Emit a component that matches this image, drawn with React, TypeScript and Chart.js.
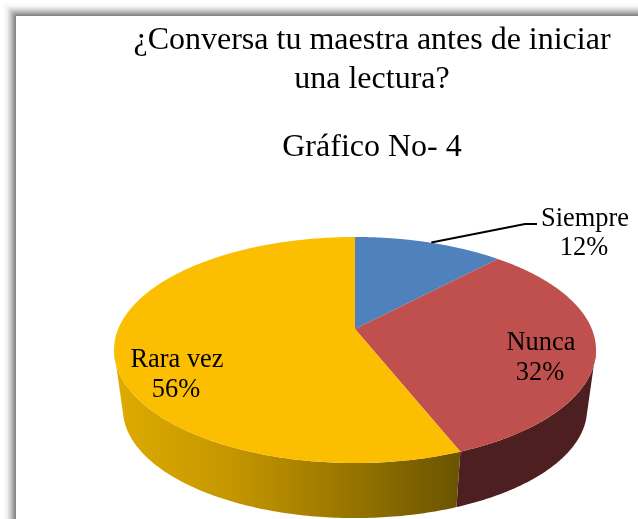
import React, { useEffect, useRef } from "react";
import { Chart, registerables } from "chart.js";

Chart.register(...registerables);

const categories = ["Siempre", "Nunca", "Rara vez"];
const seriesValues = [12, 32, 56];
const titleLines = ["¿Conversa tu maestra antes de iniciar", "una lectura?"];
const subtitleText = "Gráfico No- 4";
const topColors = ["#4f81bd", "#c0504d", "#fcbe00"];
const sideColors = ["#2a4564", "#4d1f20", "#8a6a00"];

const SERIF = "'Liberation Serif', 'Times New Roman', serif";

// Perspective of the tilted disc (a circle seen through a homography)
const APEX_X = 355;
const APEX_Y = 329;
const PERSP = 0.1858;
const RX = 236.8;
const RY_A = -48;
// Lower rim of the disc
const LOWER_SCALE = 0.963;
const LOWER_DY = 60;

function rim(theta: number): [number, number] {
  const s = Math.sin(theta);
  const v = Math.cos(theta);
  const d = 1 + PERSP * v;
  return [APEX_X + (RX * s) / d, (RY_A * v + APEX_Y) / d];
}
function lowerRim(theta: number): [number, number] {
  const [x, y] = rim(theta);
  return [APEX_X + LOWER_SCALE * (x - APEX_X), APEX_Y + LOWER_DY + LOWER_SCALE * (y - APEX_Y)];
}
const toTheta = (a: number) => a + Math.PI / 2;
const DEG = Math.PI / 180;

const pie3d = {
  id: "pie3d",
  beforeDraw(chart: any) {
    const { ctx, width, height } = chart;
    ctx.save();
    ctx.fillStyle = "#ffffff";
    ctx.fillRect(0, 0, width, height);
    const stops: [number, string][] = [
      [0, "#ffffff"],
      [0.3, "#f4f4f4"],
      [0.6, "#c8c8c8"],
      [0.87, "#949494"],
      [1, "#808080"],
    ];
    const gl = ctx.createLinearGradient(3, 0, 16, 0);
    const gt = ctx.createLinearGradient(0, 3, 0, 16);
    stops.forEach(([o, c]) => {
      gl.addColorStop(o, c);
      gt.addColorStop(o, c);
    });
    ctx.fillStyle = gt;
    ctx.fillRect(16, 0, width - 16, 16);
    ctx.fillStyle = gl;
    ctx.fillRect(0, 16, 16, height - 16);
    // mitred corner
    ctx.beginPath();
    ctx.moveTo(0, 0);
    ctx.lineTo(16, 0);
    ctx.lineTo(16, 16);
    ctx.closePath();
    ctx.fillStyle = gt;
    ctx.fill();
    ctx.beginPath();
    ctx.moveTo(0, 0);
    ctx.lineTo(0, 16);
    ctx.lineTo(16, 16);
    ctx.closePath();
    ctx.fillStyle = gl;
    ctx.fill();
    ctx.restore();
  },
  beforeDatasetDraw(chart: any) {
    const { ctx } = chart;
    const arcs = chart.getDatasetMeta(0).data;
    ctx.save();
    // side walls
    arcs.forEach((arc: any, i: number) => {
      const a0 = Math.max(toTheta(arc.startAngle), 100.7 * DEG);
      const a1 = Math.min(toTheta(arc.endAngle), 259.3 * DEG);
      if (a1 <= a0) return;
      const b0 = Math.max(toTheta(arc.startAngle), 105 * DEG);
      const b1 = Math.min(toTheta(arc.endAngle), 255 * DEG);
      const n = 120;
      ctx.beginPath();
      for (let k = 0; k <= n; k++) {
        const [x, y] = rim(a0 + ((a1 - a0) * k) / n);
        k ? ctx.lineTo(x, y) : ctx.moveTo(x, y);
      }
      for (let k = n; k >= 0; k--) {
        const [x, y] = lowerRim(b0 + ((b1 - b0) * k) / n);
        ctx.lineTo(x, y);
      }
      ctx.closePath();
      if (i === 2) {
        const g = ctx.createLinearGradient(120, 0, 462, 0);
        g.addColorStop(0, "#dcaa00");
        g.addColorStop(0.3, "#c79800");
        g.addColorStop(0.6, "#a17c00");
        g.addColorStop(1, "#6a5300");
        ctx.fillStyle = g;
      } else {
        ctx.fillStyle = sideColors[i];
      }
      ctx.fill();
    });
    // top faces
    arcs.forEach((arc: any, i: number) => {
      const a0 = toTheta(arc.startAngle);
      const a1 = toTheta(arc.endAngle);
      const n = 240;
      ctx.beginPath();
      ctx.moveTo(APEX_X, APEX_Y);
      for (let k = 0; k <= n; k++) {
        const [x, y] = rim(a0 + ((a1 - a0) * k) / n);
        ctx.lineTo(x, y);
      }
      ctx.closePath();
      ctx.fillStyle = topColors[i];
      ctx.fill();
    });
    ctx.restore();
    return false;
  },
  afterDatasetsDraw(chart: any) {
    const { ctx } = chart;
    const arcs = chart.getDatasetMeta(0).data;
    ctx.save();
    // leader line from the mid-angle of the first slice
    const first = arcs[0];
    const [lx, ly] = rim(toTheta((first.startAngle + first.endAngle) / 2));
    ctx.beginPath();
    ctx.moveTo(lx + 2, ly);
    ctx.lineTo(525, 224);
    ctx.lineTo(537, 224);
    ctx.strokeStyle = "#000000";
    ctx.lineWidth = 2;
    ctx.stroke();
    // data labels
    ctx.fillStyle = "#000000";
    ctx.font = `26.4px ${SERIF}`;
    ctx.textAlign = "center";
    ctx.textBaseline = "alphabetic";
    const labelPos: [number, number, number][] = [
      [585, 226, 255],
      [541, 350, 380],
      [177, 367, 397],
    ];
    categories.forEach((c, i) => {
      const [x, y1, y2] = labelPos[i];
      ctx.fillText(c, x, y1);
      ctx.fillText(`${seriesValues[i]}%`, x - 1, y2);
    });
    ctx.restore();
  },
};

export default function App() {
  const ref = useRef<HTMLCanvasElement>(null);
  useEffect(() => {
    const chart = new Chart(ref.current as HTMLCanvasElement, {
      type: "pie",
      data: {
        labels: categories,
        datasets: [{ data: seriesValues, backgroundColor: topColors, borderWidth: 0 }],
      },
      options: {
        responsive: false,
        animation: false,
        layout: { padding: { left: 106, top: 22 } },
        plugins: {
          legend: { display: false },
          tooltip: { enabled: false },
          title: {
            display: true,
            text: titleLines,
            color: "#000000",
            font: { family: SERIF, size: 32, weight: "normal", lineHeight: 1.19 },
            padding: { top: 0, bottom: 0 },
          },
          subtitle: {
            display: true,
            text: subtitleText,
            color: "#000000",
            font: { family: SERIF, size: 32, weight: "normal", lineHeight: 1.19 },
            padding: { top: 30, bottom: 0 },
          },
        },
      },
      plugins: [pie3d],
    } as any);
    return () => chart.destroy();
  }, []);
  return (
    <canvas
      ref={ref}
      width={638}
      height={519}
      style={{ position: "fixed", left: 0, top: 0, width: 638, height: 519, display: "block" }}
    />
  );
}
